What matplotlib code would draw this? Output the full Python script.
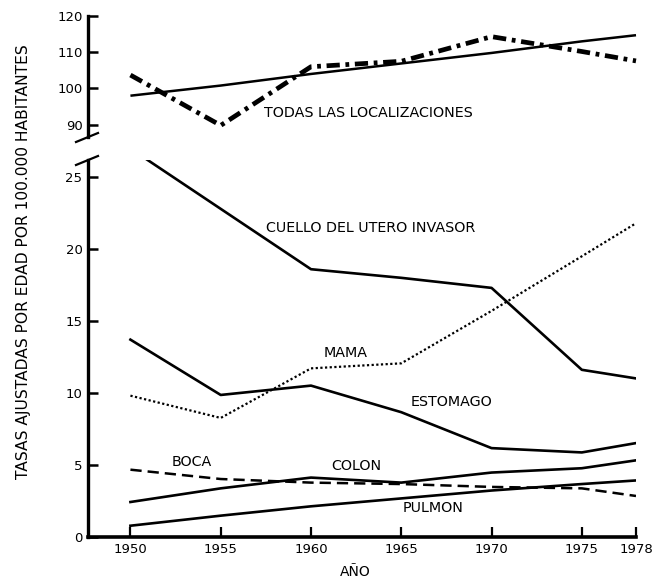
import matplotlib
matplotlib.use("Agg")
import matplotlib.pyplot as plt
from matplotlib.lines import Line2D

years = [1950, 1955, 1960, 1965, 1970, 1975, 1978]
todas_solid = [98.0, 100.8, 104.0, 106.9, 109.8, 113.0, 114.7]
todas_dashdot = [103.7, 89.8, 106.0, 107.5, 114.3, 110.2, 107.6]
cuello = [27.0, 22.8, 18.6, 18.0, 17.3, 11.6, 11.0]
mama = [9.8, 8.25, 11.7, 12.05, 15.7, 19.5, 21.8]
estomago = [13.7, 9.85, 10.5, 8.65, 6.15, 5.85, 6.5]
boca = [4.65, 4.0, 3.75, 3.65, 3.45, 3.35, 2.82]
colon = [2.4, 3.35, 4.1, 3.75, 4.45, 4.75, 5.3]
pulmon = [0.75, 1.45, 2.1, 2.65, 3.2, 3.65, 3.9]

upper_ticks = [90, 100, 110, 120]
lower_ticks = [0, 5, 10, 15, 20, 25]
x_ticks = [1950, 1955, 1960, 1965, 1970, 1975, 1978]

plt.rcParams['font.family'] = ['DejaVu Sans']
W, H = 662, 580
fig = plt.figure(figsize=(W / 100, H / 100), dpi=100)

left = 88 / W
right = 636 / W
ax_lo = fig.add_axes([left, 1 - 536.5 / H, right - left, (536.5 - 160) / H])
ax_up = fig.add_axes([left, 1 - 137 / H, right - left, (137 - 16) / H])

xlim = (1947.65, 1978)
for ax in (ax_lo, ax_up):
    ax.set_xlim(*xlim)
    ax.spines['right'].set_visible(False)
    ax.spines['top'].set_visible(False)
    ax.spines['left'].set_linewidth(2.4)
    ax.tick_params(axis='y', direction='in', length=7, width=1.8, labelsize=9.5, pad=4)
    ax.patch.set_alpha(0)

ax_up.spines['bottom'].set_visible(False)
ax_up.set_xticks([])
ax_up.set_ylim(86.6, 120)
ax_up.set_yticks(upper_ticks)

ax_lo.spines['bottom'].set_linewidth(2.6)
ax_lo.set_ylim(0, 26.2)
ax_lo.set_yticks(lower_ticks)
ax_lo.set_xticks(x_ticks)
ax_lo.set_xticklabels([str(v) for v in x_ticks])
ax_lo.tick_params(axis='x', direction='in', length=7, width=1.6, labelsize=9.5, pad=5)

# Upper series
ax_up.plot(years, todas_solid, color='black', lw=1.8, solid_capstyle='butt', clip_on=False)
ax_up.plot(years, todas_dashdot, color='black', lw=3.4, linestyle=(0, (2.8, 1.2, 0.8, 1.2)),
           clip_on=False)
lab = 10.3
ax_up.text(1957.4, 93.1, 'TODAS LAS LOCALIZACIONES', fontsize=lab, va='center', ha='left')

# Lower series
ax_lo.plot(years, cuello, color='black', lw=1.9)
ax_lo.plot(years, mama, color='black', lw=1.6, linestyle=(0, (1, 1.1)))
ax_lo.plot(years, estomago, color='black', lw=1.9)
ax_lo.plot(years, boca, color='black', lw=1.8, linestyle=(0, (4.5, 2.4)))
ax_lo.plot(years, colon, color='black', lw=1.9)
ax_lo.plot(years, pulmon, color='black', lw=1.9)

ax_lo.text(1957.5, 21.5, 'CUELLO DEL UTERO INVASOR', fontsize=lab, va='center', ha='left')
ax_lo.text(1960.7, 12.77, 'MAMA', fontsize=lab, va='center', ha='left')
ax_lo.text(1965.5, 9.37, 'ESTOMAGO', fontsize=lab, va='center', ha='left')
ax_lo.text(1952.3, 5.2, 'BOCA', fontsize=lab, va='center', ha='left')
ax_lo.text(1961.1, 4.9, 'COLON', fontsize=lab, va='center', ha='left')
ax_lo.text(1965.1, 1.96, 'PULMON', fontsize=lab, va='center', ha='left')

fig.text(355 / W, 1 - 572 / H, 'AÑO', fontsize=10, ha='center', va='center')
fig.text(24 / W, 1 - 262 / H, 'TASAS AJUSTADAS POR EDAD POR 100.000 HABITANTES',
         rotation=90, fontsize=11.2, ha='center', va='center')

# Axis break marks
def slash(yc):
    x0, x1 = 76 / W, 98 / W
    fig.add_artist(Line2D([x0, x1], [1 - (yc + 5) / H, 1 - (yc - 4) / H],
                          color='black', lw=1.6, transform=fig.transFigure))

slash(137)
slash(160)

fig.savefig('out.png', dpi=100)
